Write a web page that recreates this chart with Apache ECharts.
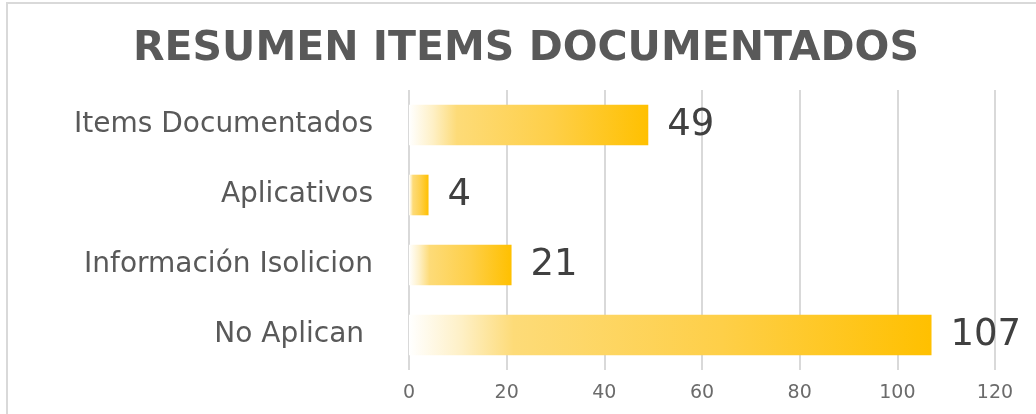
<!DOCTYPE html>
<html>
<head>
<meta charset="utf-8">
<script src="https://cdn.jsdelivr.net/npm/echarts@6/dist/echarts.min.js"></script>
<style>
  html, body { margin: 0; padding: 0; background: #fff; }
  #chart { width: 1036px; height: 414px; }
</style>
</head>
<body>
<div id="chart"></div>
<script>
// data, top to bottom
var categories = ['Items Documentados', 'Aplicativos', 'Información Isolicion', 'No Aplican '];
var values = [49, 4, 21, 107];
var tickLabels = ['0', '20', '40', '60', '80', '100', '120'];

var titleText = 'RESUMEN ITEMS DOCUMENTADOS';

// gold bar that fades to white on the left
var barFill = {
    type: 'linear', x: 0, y: 0, x2: 1, y2: 0,
    colorStops: [
        { offset: 0, color: '#ffffff' },
        { offset: 0.1, color: '#fef0c6' },
        { offset: 0.2, color: '#fddb78' },
        { offset: 0.6, color: '#fecf48' },
        { offset: 1, color: '#ffc000' }
    ]
};

var myChart = echarts.init(document.getElementById('chart'), null, { renderer: 'canvas' });

var option = {
    animation: false,
    backgroundColor: '#fff',
    title: {
        text: titleText,
        left: 128,
        top: 24,
        textStyle: {
            fontFamily: 'DejaVu Sans',
            fontWeight: 'bold',
            fontSize: 41,
            color: '#595959'
        }
    },
    graphic: [{
        // chart area frame (only top and left edges show)
        type: 'rect',
        shape: { x: 7, y: 3, width: 1060, height: 440 },
        style: { fill: null, stroke: '#d9d9d9', lineWidth: 2 },
        silent: true
    }],
    grid: {
        left: 409,
        right: 41,
        top: 90,
        bottom: 44
    },
    xAxis: {
        type: 'value',
        min: 0,
        max: 120,
        interval: 20,
        axisLine: { show: false },
        axisTick: { show: false },
        splitLine: { lineStyle: { color: '#d9d9d9', width: 2 } },
        axisLabel: {
            margin: 14,
            fontFamily: 'DejaVu Sans',
            fontSize: 19,
            color: '#6b6b6b',
            formatter: function (v) { return tickLabels[v / 20]; }
        }
    },
    yAxis: {
        type: 'category',
        inverse: true,
        data: categories,
        axisLine: { show: false },
        axisTick: { show: false },
        axisLabel: {
            margin: 36,
            fontFamily: 'DejaVu Sans',
            fontSize: 28,
            color: '#595959'
        }
    },
    series: [{
        type: 'bar',
        data: values,
        barWidth: '58%',
        itemStyle: { color: barFill },
        label: {
            show: true,
            position: 'right',
            distance: 19,
            fontFamily: 'DejaVu Sans',
            fontSize: 37,
            color: '#404040'
        }
    }]
};

myChart.setOption(option);
</script>
</body>
</html>
